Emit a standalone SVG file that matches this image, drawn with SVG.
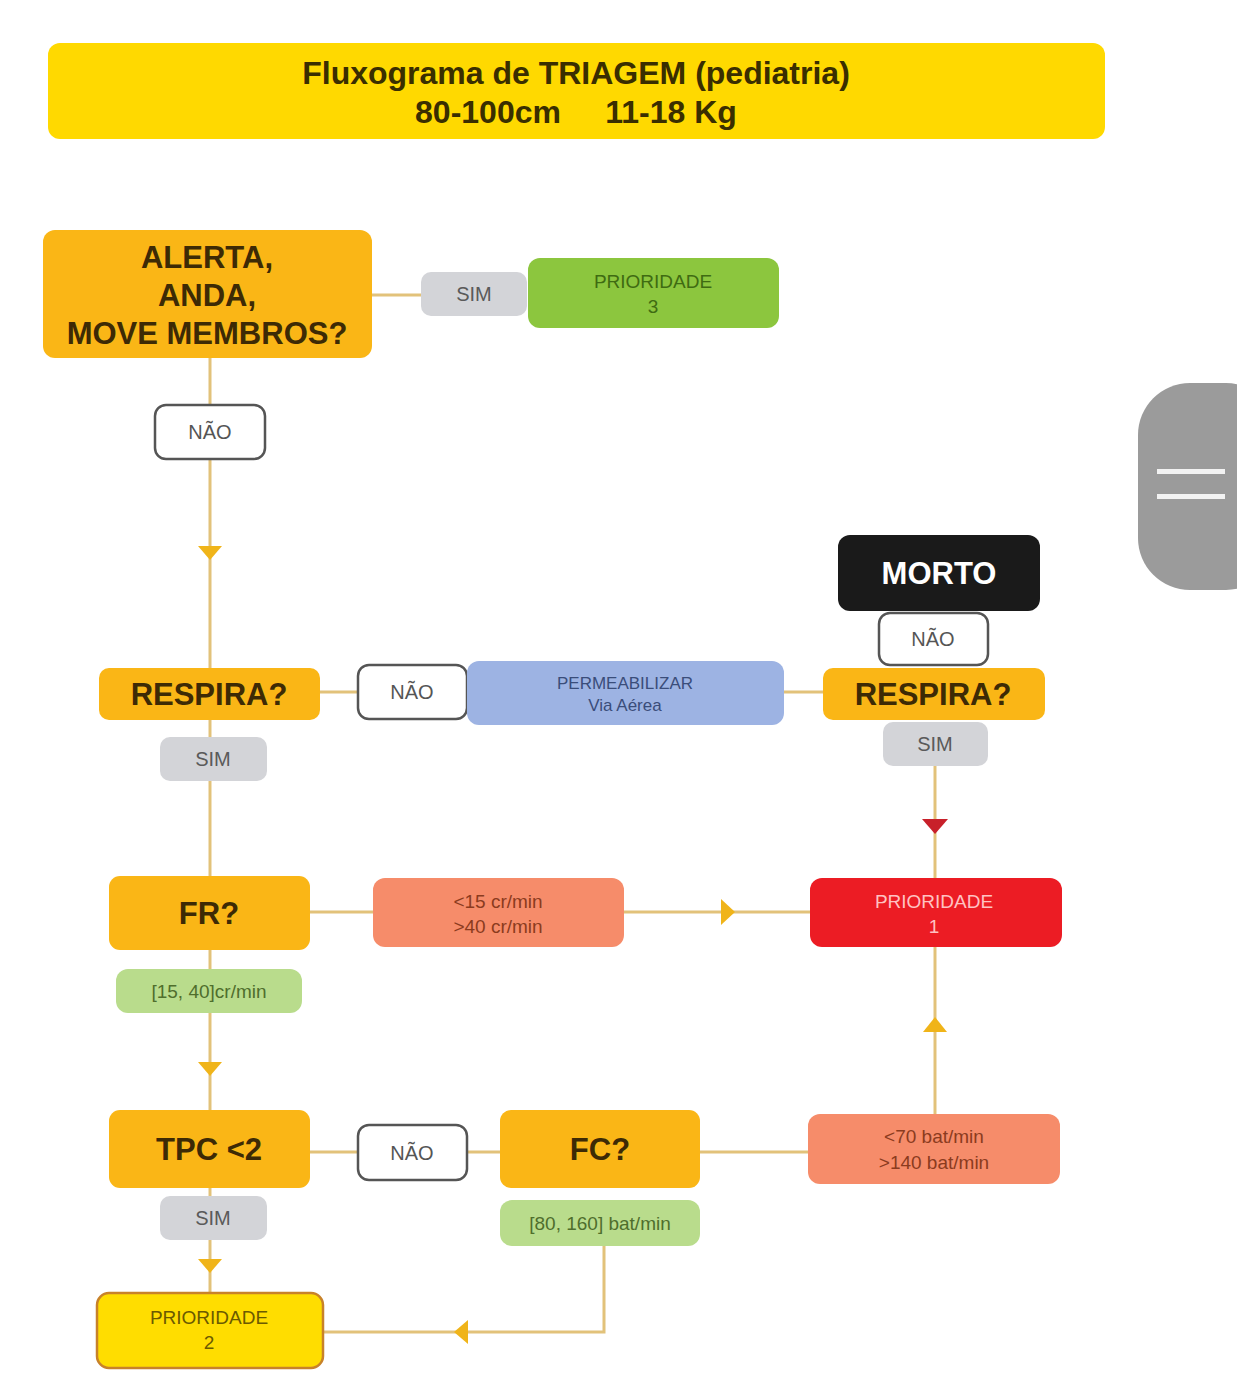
<svg xmlns="http://www.w3.org/2000/svg" width="1237" height="1399" viewBox="0 0 1237 1399">
  <style>
    text { font-family: "Liberation Sans", Arial, sans-serif; text-anchor: middle; }
    .head { font-size: 32px; font-weight: bold; fill: #3a2e00; }
    .q { fill: #fab616; }
    .qt { font-size: 31px; font-weight: bold; fill: #3d2a05; }
    .sim { fill: #d3d4d8; }
    .simt { font-size: 20px; fill: #5a5a5a; }
    .nao { fill: #ffffff; stroke: #555555; stroke-width: 2.5; }
    .naot { font-size: 20px; fill: #555555; }
    .ok { fill: #b9dc8c; }
    .okt { font-size: 19px; fill: #4f6e2c; }
    .bad { fill: #f68c6a; }
    .badt { font-size: 19px; fill: #8b3b1e; }
    .wire { fill: none; stroke: #e2c27a; stroke-width: 3; }
    .tip { fill: #f0b419; }
  </style>

  <rect width="1237" height="1399" fill="#ffffff"/>

  <!-- title banner -->
  <g id="title">
    <rect x="48" y="43" width="1057" height="96" rx="12" fill="#ffd900"/>
    <text class="head" x="576" y="84">Fluxograma de TRIAGEM (pediatria)</text>
    <text class="head" x="488" y="123">80-100cm</text>
    <text class="head" x="671" y="123">11-18 Kg</text>
  </g>

  <!-- connectors -->
  <g id="connectors">
    <path class="wire" d="M372 295 H421"/>
    <path class="wire" d="M210 358 V668"/>
    <path class="wire" d="M320 692 H358"/>
    <path class="wire" d="M784 692 H823"/>
    <path class="wire" d="M935 766 V878"/>
    <path class="wire" d="M210 720 V876"/>
    <path class="wire" d="M310 912 H373"/>
    <path class="wire" d="M624 912 H810"/>
    <path class="wire" d="M210 950 V1110"/>
    <path class="wire" d="M310 1152 H358"/>
    <path class="wire" d="M467 1152 H500"/>
    <path class="wire" d="M700 1152 H808"/>
    <path class="wire" d="M935 1114 V947"/>
    <path class="wire" d="M210 1188 V1293"/>
    <path class="wire" d="M604 1246 V1332 H323"/>
    <!-- mid-line arrowheads -->
    <polygon class="tip" points="198,546 222,546 210,560"/>
    <polygon fill="#c8202a" points="922,819 948,819 935,834"/>
    <polygon class="tip" points="721,899 721,925 735,912"/>
    <polygon class="tip" points="923,1032 947,1032 935,1017"/>
    <polygon class="tip" points="198,1062 222,1062 210,1076"/>
    <polygon class="tip" points="198,1259 222,1259 210,1273"/>
    <polygon class="tip" points="468,1320 468,1344 454,1332"/>
  </g>

  <g id="alerta">
    <rect class="q" x="43" y="230" width="329" height="128" rx="12"/>
    <text class="qt" x="207" y="268">ALERTA,</text>
    <text class="qt" x="207" y="306">ANDA,</text>
    <text class="qt" x="207" y="344">MOVE MEMBROS?</text>
  </g>

  <g id="sim-alerta">
    <rect class="sim" x="421" y="272" width="106" height="44" rx="10"/>
    <text class="simt" x="474" y="301">SIM</text>
  </g>

  <g id="prioridade-3">
    <rect x="528" y="258" width="251" height="70" rx="12" fill="#8cc63e"/>
    <text x="653" y="288" style="font-size:19px;fill:#3f6b12">PRIORIDADE</text>
    <text x="653" y="313" style="font-size:19px;fill:#3f6b12">3</text>
  </g>

  <g id="nao-alerta">
    <rect class="nao" x="155" y="405" width="110" height="54" rx="11"/>
    <text class="naot" x="210" y="439">NÃO</text>
  </g>

  <g id="respira-1">
    <rect class="q" x="99" y="668" width="221" height="52" rx="10"/>
    <text class="qt" x="209" y="705">RESPIRA?</text>
  </g>

  <g id="sim-respira-1">
    <rect class="sim" x="160" y="737" width="107" height="44" rx="10"/>
    <text class="simt" x="213" y="766">SIM</text>
  </g>

  <g id="nao-respira-1">
    <rect class="nao" x="358" y="665" width="109" height="54" rx="11"/>
    <text class="naot" x="412" y="699">NÃO</text>
  </g>

  <g id="permeabilizar">
    <rect x="467" y="661" width="317" height="64" rx="12" fill="#9db3e3"/>
    <text x="625" y="689" style="font-size:17px;fill:#3a4d7a">PERMEABILIZAR</text>
    <text x="625" y="711" style="font-size:17px;fill:#3a4d7a">Via Aérea</text>
  </g>

  <g id="morto">
    <rect x="838" y="535" width="202" height="76" rx="12" fill="#1a1a1a"/>
    <text x="939" y="584" style="font-size:31px;font-weight:bold;fill:#ffffff">MORTO</text>
  </g>

  <g id="nao-respira-2">
    <rect class="nao" x="879" y="613" width="109" height="52" rx="11"/>
    <text class="naot" x="933" y="646">NÃO</text>
  </g>

  <g id="respira-2">
    <rect class="q" x="823" y="668" width="222" height="52" rx="10"/>
    <text class="qt" x="933" y="705">RESPIRA?</text>
  </g>

  <g id="sim-respira-2">
    <rect class="sim" x="883" y="722" width="105" height="44" rx="10"/>
    <text class="simt" x="935" y="751">SIM</text>
  </g>

  <g id="fr">
    <rect class="q" x="109" y="876" width="201" height="74" rx="11"/>
    <text class="qt" x="209" y="924">FR?</text>
  </g>

  <g id="fr-fora">
    <rect class="bad" x="373" y="878" width="251" height="69" rx="12"/>
    <text class="badt" x="498" y="908">&lt;15 cr/min</text>
    <text class="badt" x="498" y="933">&gt;40 cr/min</text>
  </g>

  <g id="prioridade-1">
    <rect x="810" y="878" width="252" height="69" rx="12" fill="#ec1c24"/>
    <text x="934" y="908" style="font-size:19px;fill:#ffc2c2">PRIORIDADE</text>
    <text x="934" y="933" style="font-size:19px;fill:#ffc2c2">1</text>
  </g>

  <g id="fr-normal">
    <rect class="ok" x="116" y="969" width="186" height="44" rx="12"/>
    <text class="okt" x="209" y="998">[15, 40]cr/min</text>
  </g>

  <g id="tpc">
    <rect class="q" x="109" y="1110" width="201" height="78" rx="11"/>
    <text class="qt" x="209" y="1160">TPC &lt;2</text>
  </g>

  <g id="nao-tpc">
    <rect class="nao" x="358" y="1125" width="109" height="55" rx="11"/>
    <text class="naot" x="412" y="1160">NÃO</text>
  </g>

  <g id="fc">
    <rect class="q" x="500" y="1110" width="200" height="78" rx="11"/>
    <text class="qt" x="600" y="1160">FC?</text>
  </g>

  <g id="fc-fora">
    <rect class="bad" x="808" y="1114" width="252" height="70" rx="12"/>
    <text class="badt" x="934" y="1143">&lt;70 bat/min</text>
    <text class="badt" x="934" y="1169">&gt;140 bat/min</text>
  </g>

  <g id="sim-tpc">
    <rect class="sim" x="160" y="1196" width="107" height="44" rx="10"/>
    <text class="simt" x="213" y="1225">SIM</text>
  </g>

  <g id="fc-normal">
    <rect class="ok" x="500" y="1200" width="200" height="46" rx="12"/>
    <text class="okt" x="600" y="1230">[80, 160] bat/min</text>
  </g>

  <g id="prioridade-2">
    <rect x="97" y="1293" width="226" height="75" rx="12" fill="#ffdd00" stroke="#c8822a" stroke-width="2.5"/>
    <text x="209" y="1324" style="font-size:19px;fill:#6b5a00">PRIORIDADE</text>
    <text x="209" y="1349" style="font-size:19px;fill:#6b5a00">2</text>
  </g>

  <!-- side menu handle -->
  <g id="menu-handle">
    <rect x="1138" y="383" width="140" height="207" rx="52" fill="#9b9b9b"/>
    <rect x="1157" y="469" width="68" height="5" fill="#f2f2f2"/>
    <rect x="1157" y="494" width="68" height="5" fill="#f2f2f2"/>
  </g>
</svg>
